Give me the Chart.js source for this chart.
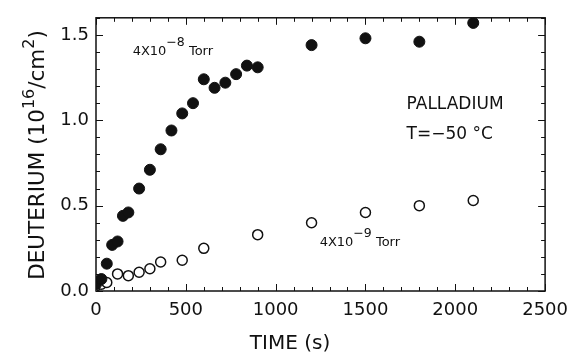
<!DOCTYPE html>
<html>
<head>
<meta charset="utf-8">
<script src="https://cdn.jsdelivr.net/npm/chart.js@4.4.1/dist/chart.umd.min.js"></script>
<style>
  html, body { margin: 0; padding: 0; background: #fff; }
</style>
</head>
<body>
<canvas id="chart" width="577" height="354"></canvas>
<script>
// 4x10^-8 Torr exposure (filled circles)
const hiTime = [0, 30, 60, 90, 120, 150, 180, 240, 300, 360, 420, 480, 540, 600, 660, 720, 780, 840, 900, 1200, 1500, 1800, 2100];
const hiDeut = [0.04, 0.07, 0.16, 0.27, 0.29, 0.44, 0.46, 0.60, 0.71, 0.83, 0.94, 1.04, 1.10, 1.24, 1.19, 1.22, 1.27, 1.32, 1.31, 1.44, 1.48, 1.46, 1.57];
// 4x10^-9 Torr exposure (open circles)
const loTime = [0, 30, 60, 120, 180, 240, 300, 360, 480, 600, 900, 1200, 1500, 1800, 2100];
const loDeut = [0.03, 0.04, 0.05, 0.10, 0.09, 0.11, 0.13, 0.17, 0.18, 0.25, 0.33, 0.40, 0.46, 0.50, 0.53];

const xTicks = [0, 500, 1000, 1500, 2000, 2500];
const yTicks = [0.0, 0.5, 1.0, 1.5];
const X_MAX = 2500, Y_MAX = 1.6;

const FONT = "'DejaVu Sans', sans-serif";
const INK = "#111";

function pairs(xs, ys) { return xs.map((t, i) => ({ x: t, y: ys[i] })); }

// draw a run of [text, isSuper] pieces starting at (x0, y0) baseline
function drawRich(ctx, parts, x0, y0, size, supSize, rise) {
  let x = x0;
  parts.forEach(([txt, sup]) => {
    ctx.font = (sup ? supSize : size) + "px " + FONT;
    ctx.fillText(txt, x, sup ? y0 - rise : y0);
    x += ctx.measureText(txt).width;
  });
  return x - x0;
}
function richWidth(ctx, parts, size, supSize) {
  let w = 0;
  parts.forEach(([txt, sup]) => {
    ctx.font = (sup ? supSize : size) + "px " + FONT;
    w += ctx.measureText(txt).width;
  });
  return w;
}

// inward ticks on all four sides + box
const frameTicks = {
  id: "frameTicks",
  beforeDatasetsDraw(chart) {
    const { ctx, chartArea: a, scales: { x, y } } = chart;
    ctx.save();
    ctx.strokeStyle = INK;
    ctx.lineWidth = 1.5;
    ctx.strokeRect(a.left, a.top, a.right - a.left, a.bottom - a.top);
    ctx.lineWidth = 1;
    ctx.beginPath();
    for (let i = 0; i <= 25; i++) {
      const px = Math.round(x.getPixelForValue(i * 100)) + 0.5;
      const len = i % 5 === 0 ? 7 : 4;
      ctx.moveTo(px, a.bottom); ctx.lineTo(px, a.bottom - len);
      ctx.moveTo(px, a.top); ctx.lineTo(px, a.top + len);
    }
    for (let i = 0; i <= 16; i++) {
      const py = Math.round(y.getPixelForValue(i / 10)) + 0.5;
      const len = i % 5 === 0 ? 7 : 4;
      ctx.moveTo(a.left, py); ctx.lineTo(a.left + len, py);
      ctx.moveTo(a.right, py); ctx.lineTo(a.right - len, py);
    }
    ctx.stroke();
    ctx.restore();
  }
};

// axis titles and in-plot labels
const labels = {
  id: "labels",
  afterDraw(chart) {
    const { ctx, scales: { x, y } } = chart;
    ctx.save();
    ctx.fillStyle = INK;
    ctx.textBaseline = "alphabetic";
    ctx.textAlign = "left";

    // x title
    ctx.font = "20px " + FONT;
    const tt = "TIME (s)";
    const tw = ctx.measureText(tt).width;
    ctx.fillText(tt, x.getPixelForValue(1080) - tw / 2, 349);

    // y title, rotated
    const yParts = [["DEUTERIUM (10", false], ["16", true], ["/cm", false], ["2", true], [")", false]];
    const yw = richWidth(ctx, yParts, 21.5, 16);
    ctx.save();
    ctx.translate(44, 155);
    ctx.rotate(-Math.PI / 2);
    drawRich(ctx, yParts, -yw / 2, 0, 21.5, 16, 10);
    ctx.restore();

    // series labels
    drawRich(ctx, [["4X10", false], ["\u22128", true], [" Torr", false]],
      x.getPixelForValue(204), y.getPixelForValue(1.381), 13, 12.5, 9);
    drawRich(ctx, [["4X10", false], ["\u22129", true], [" Torr", false]],
      x.getPixelForValue(1245), y.getPixelForValue(0.266), 13, 12.5, 9);

    ctx.font = "17px " + FONT;
    ctx.fillText("PALLADIUM", x.getPixelForValue(1729), y.getPixelForValue(1.063));
    ctx.fillText("T=\u221250 \u00B0C", x.getPixelForValue(1729), y.getPixelForValue(0.890));
    ctx.restore();
  }
};

new Chart(document.getElementById("chart"), {
  type: "scatter",
  data: {
    datasets: [
      {
        label: "4X10-8 Torr",
        data: pairs(hiTime, hiDeut),
        pointRadius: 5.5,
        pointBackgroundColor: INK,
        pointBorderColor: INK,
        pointBorderWidth: 1
      },
      {
        label: "4X10-9 Torr",
        data: pairs(loTime, loDeut),
        pointRadius: 5,
        pointBackgroundColor: "#fff",
        pointBorderColor: INK,
        pointBorderWidth: 1.5
      }
    ]
  },
  options: {
    responsive: false,
    animation: false,
    devicePixelRatio: 1,
    layout: { padding: { top: 14, right: 27, left: 0, bottom: 0 } },
    plugins: { legend: { display: false }, tooltip: { enabled: false } },
    scales: {
      x: {
        type: "linear", min: 0, max: X_MAX,
        grid: { display: false, drawTicks: false },
        border: { display: false },
        afterFit: s => { s.height = 63; },
        afterBuildTicks: s => { s.ticks = xTicks.map(v => ({ value: v })); },
        ticks: { color: INK, padding: 9, font: { family: FONT, size: 18 }, maxRotation: 0,
                 callback: v => String(v) }
      },
      y: {
        type: "linear", min: 0, max: Y_MAX,
        grid: { display: false, drawTicks: false },
        border: { display: false },
        afterFit: s => { s.width = 96; },
        afterBuildTicks: s => { s.ticks = yTicks.map(v => ({ value: v })); },
        ticks: { color: INK, padding: 7, font: { family: FONT, size: 18 },
                 callback: v => Number(v).toFixed(1) }
      }
    }
  },
  plugins: [frameTicks, labels]
});
</script>
</body>
</html>
